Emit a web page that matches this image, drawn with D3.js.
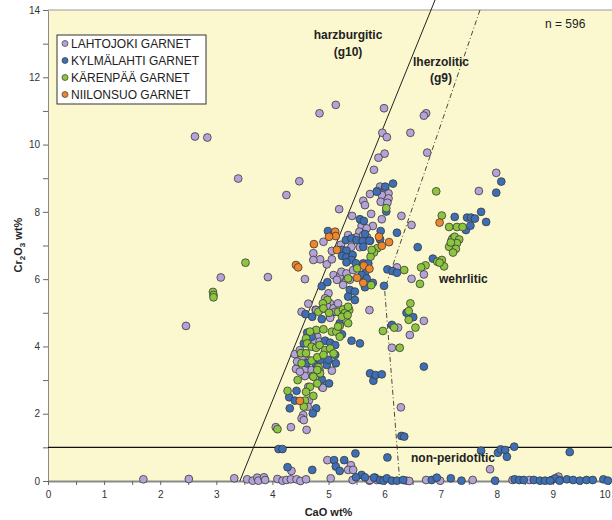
<!DOCTYPE html>
<html>
<head>
<meta charset="utf-8">
<script src="https://cdn.jsdelivr.net/npm/d3@7"></script>
<style>
  body { margin: 0; background: #fff; }
  svg { display: block; }
  text { font-family: "Liberation Sans", Arial, sans-serif; }
</style>
</head>
<body>
<svg id="chart" width="612" height="520"></svg>
<script>
// Garnet compositions, [CaO wt%, Cr2O3 wt%]
const seriesNames = ["LAHTOJOKI GARNET", "KYLMÄLAHTI GARNET", "KÄRENPÄÄ GARNET", "NIILONSUO GARNET"];
const seriesColors = ["#b4a3d6", "#3d6fb6", "#8cc63e", "#f0862c"];

const lahtojoki = [
  [2.62,10.24],[2.84,10.21],[3.39,8.99],[4.48,8.91],[4.25,8.50],[3.08,6.05],[3.92,6.06],[4.58,6.00],[2.46,4.61],
  [4.84,10.93],[5.13,11.18],[5.99,11.08],[6.74,10.93],[6.70,10.86],
  [5.96,10.35],[6.04,10.22],[6.46,10.35],[6.76,9.76],[6.00,9.73],[5.89,9.61],[5.81,9.25],
  [7.99,9.16],[7.68,8.62],[5.19,8.08],
  [5.92,8.75],[6.01,8.70],[6.07,8.55],[5.95,8.50],[5.87,8.62],[5.74,8.53],[6.07,8.40],[5.93,8.30],[6.05,8.27],
  [5.62,8.33],[5.65,8.20],[5.76,7.94],[5.95,7.78],[6.30,7.88],[6.48,7.61],[5.42,7.88],
  [5.79,7.58],[5.59,7.58],[5.68,7.51],[5.55,7.41],[5.62,7.31],[5.69,7.24],
  [5.35,7.31],[5.49,7.24],[4.91,7.11],[5.22,7.02],[5.41,6.96],[5.56,6.95],
  [5.06,6.84],[4.73,6.77],[4.85,6.59],[4.73,6.57],[4.97,6.44],[5.06,6.59],
  [5.20,6.02],[5.09,6.12],[5.26,6.15],[5.20,6.07],[5.26,5.83],[5.15,5.98],[5.23,6.22],[5.32,6.17],[5.44,6.27],[5.38,5.98],
  [6.22,6.35],[6.70,6.14],[6.48,6.01],
  [5.73,5.08],[6.70,4.76],[6.45,4.34],[6.24,4.56],[6.13,3.96],
  [4.77,5.09],[4.64,5.27],[4.52,5.03],[5.06,5.13],[5.03,4.99],[5.12,5.03],
  [5.00,5.58],[4.94,5.43],[5.03,5.28],[4.98,5.18],[5.09,5.13],[5.17,5.28],[5.12,5.03],[5.03,4.88],[4.78,5.08],[5.03,4.85],
  [4.73,4.37],[4.80,4.29],[4.76,4.14],[4.84,4.14],
  [4.40,3.77],[4.49,3.89],[4.52,3.65],
  [4.44,3.55],[4.66,3.58],[4.80,3.40],[4.58,3.30],[4.70,3.30],[4.84,3.30],[5.06,3.28],[4.42,3.33],
  [4.58,3.12],[4.72,3.12],[4.49,3.25],[4.64,2.80],[4.88,2.80],[4.90,2.77],
  [4.65,2.39],[4.63,2.21],[4.55,1.96],[4.52,1.86],[4.56,1.81],[4.06,1.60],[4.33,1.60],[4.61,1.52],
  [6.29,2.19],
  [4.98,0.62],[4.34,0.30],[5.40,0.47],[5.35,0.33],[5.44,0.33],[7.88,0.35],
  [1.70,0.05],[2.51,0.06],[3.32,0.08],[3.55,0.05],[3.65,0.01],[3.73,0.10],[3.75,0.01],[3.85,0.11],[3.87,0.03],
  [4.09,0.06],[4.18,0.01],[4.25,0.03],[4.33,0.05],[4.43,0.05],[4.50,0.00],[4.60,0.05],[5.04,0.08],[5.43,0.03],
  [5.73,0.01],[5.74,0.03],[5.86,0.03],[6.39,0.01],[6.44,0.00],[6.74,0.03],[6.99,0.01],[7.57,0.03],[8.28,0.03],
  [8.58,0.03],[9.10,0.13],[9.12,0.03]
];

const kylmalahti = [
  [8.08,8.90],[7.99,8.57],[7.25,7.85],[7.47,7.83],[7.54,7.83],[7.61,7.80],[7.72,8.00],[7.81,7.70],[7.45,7.46],[7.53,7.59],
  [7.22,7.22],[7.21,6.94],[6.59,6.95],[6.86,6.61],
  [6.39,5.00],[6.51,4.87],
  [6.15,8.84],[5.86,8.60],[6.01,8.75],[6.03,8.01],
  [6.22,7.38],[5.93,7.43],[5.74,7.14],[5.65,7.34],[5.92,7.18],
  [6.05,6.29],[6.14,6.24],[6.22,6.19],
  [5.65,6.17],[5.79,5.89],[5.65,5.76],[5.99,5.80],
  [6.13,4.64],[5.56,4.09],
  [5.56,7.78],[5.63,7.73],[4.99,7.43],[5.09,7.33],
  [5.31,7.16],[5.41,7.21],[5.50,7.16],[5.61,7.13],[5.73,7.14],[5.62,6.96],
  [5.24,6.87],[5.32,6.85],[5.24,6.69],[5.32,6.65],[5.43,6.72],
  [5.41,6.57],[5.32,6.50],[5.49,6.47],[5.62,6.47],[5.71,6.47],
  [5.59,6.12],[5.68,6.02],[4.88,5.79],[4.98,5.91],
  [4.59,4.96],[4.71,4.88],
  [5.38,5.68],[5.47,5.63],[5.35,5.48],[5.47,5.38],
  [4.88,4.81],[5.20,4.69],
  [4.62,4.41],[4.70,4.29],[5.24,4.36],[5.41,4.17],
  [4.56,4.09],[4.94,4.17],[5.03,4.11],[5.12,4.04],[5.12,3.75],
  [4.61,3.50],[4.78,3.47],[4.85,3.60],[4.97,3.45],[5.00,3.60],
  [5.13,3.50],[4.88,3.02],[5.01,2.90],[5.80,2.98],
  [4.43,2.68],[4.30,2.49],[4.40,2.39],[4.31,2.16],[4.78,2.16],[4.72,2.01],
  [6.70,3.40],[5.74,3.20],[5.84,3.15],[5.95,3.17],
  [6.30,1.34],[6.35,1.32],
  [4.11,0.95],[4.18,0.95],[5.48,0.82],[5.10,0.62],[5.28,0.62],[4.27,0.41],[4.71,0.33],[5.13,0.43],[5.20,0.30],
  [6.05,0.70],[7.72,0.90],[8.02,0.84],[8.07,0.94],[8.15,0.92],[8.18,0.72],[8.31,1.02],[9.30,0.86],
  [5.59,0.18],[5.49,0.11],[5.65,0.11],[5.83,0.10],[5.81,0.10],[5.92,0.03],[5.98,0.01],[6.04,0.08],[6.13,0.01],
  [6.22,0.01],[6.33,0.03],[6.84,0.03],[6.93,0.10],[7.18,0.08],[7.37,0.01],[7.97,0.01],[8.32,0.05],[8.40,0.03],
  [8.48,0.03],[8.66,0.03],[8.77,0.01],[8.86,0.01],[8.98,0.03],[9.04,0.08],[8.95,0.01],[9.12,0.01],[9.25,0.05],
  [9.36,0.03],[9.48,0.01],[9.60,0.03],[9.71,0.03],[9.90,0.05],[9.98,0.01]
];

const karenpaa = [
  [6.92,8.61],[7.02,7.89],[7.15,7.55],[7.29,7.55],[7.39,7.55],
  [7.20,7.18],[7.25,7.26],[7.33,7.18],[7.29,7.07],[7.15,6.96],[7.27,6.90],[7.22,6.79],[7.18,7.09],
  [6.94,6.52],[7.02,6.57],[7.06,6.38],[6.98,6.49],[6.73,6.41],[6.65,6.35],[6.35,6.27],[6.63,5.86],
  [6.46,5.28],[6.43,5.05],[6.43,4.79],[6.55,4.56],
  [6.03,8.11],[5.87,6.92],[5.81,6.79],[5.75,6.67],[5.77,6.87],[5.76,5.82],
  [6.17,4.56],[5.97,4.46],[6.27,3.96],
  [5.51,6.32],[5.35,6.02],
  [2.94,5.62],[2.95,5.53],[2.95,5.46],[3.52,6.49],
  [4.89,5.11],[4.82,5.03],[5.37,5.08],[5.26,5.03],[5.17,5.03],
  [4.98,5.38],[4.90,5.28],[4.91,5.13],[5.01,5.00],[5.26,5.10],[5.29,4.99],[5.35,5.18],[5.24,4.88],[5.34,4.93],
  [5.35,4.69],[5.20,4.61],
  [4.78,4.49],[4.91,4.51],[5.06,4.44],[5.14,4.44],[5.17,4.59],[5.20,4.29],[4.67,4.44],
  [4.60,4.24],[4.62,4.09],[4.70,3.99],[4.78,3.96],[4.84,4.04],
  [4.94,3.89],[5.03,3.94],[5.09,3.79],
  [4.51,3.80],[4.60,3.80],[4.52,3.50],[4.70,3.58],[4.80,3.68],[4.91,3.75],
  [4.82,3.38],[4.85,3.20],[4.73,3.10],[4.80,3.30],
  [4.45,3.00],[4.67,2.80],[4.80,2.90],
  [4.27,2.68],[4.60,2.65],[4.73,2.53],[4.58,2.39],[4.56,2.21],[4.09,1.54]
];

const niilonsuo = [
  [6.98,7.68],[5.90,7.26],[6.08,7.10],[5.95,6.99],[5.63,6.40],[5.73,6.31],[5.62,5.89],
  [5.12,7.41],[5.13,7.28],[5.01,7.26],[4.74,7.04],[5.15,6.87],[4.42,6.42],[4.46,6.35],[5.51,6.04],[4.49,2.38]
];

const seriesData = [lahtojoki, kylmalahti, karenpaa, niilonsuo];

// Field boundaries, [CaO, Cr2O3]
const g10Boundary = [[3.42, 0], [6.90, 14.3]];
const g9Boundary = [[7.70, 14.0], [6.00, 5.7], [6.27, 0]];
const peridotiteLimit = [[0, 1], [10.1, 1]];

const xTicks = d3.range(0, 10.001, 0.5);
const yTicks = d3.range(0, 14.001, 1);

const svg = d3.select("#chart");
const x = d3.scaleLinear().domain([0, 10]).range([48, 609]);
const y = d3.scaleLinear().domain([0, 14]).range([481, 10]);

// plot area
svg.append("rect")
  .attr("x", x(0)).attr("y", y(14))
  .attr("width", 612 - x(0)).attr("height", y(0) - y(14))
  .attr("fill", "#fbf8cf");
svg.append("line")
  .attr("x1", x(0)).attr("x2", 612).attr("y1", y(14)).attr("y2", y(14))
  .attr("stroke", "#9a9a9a").attr("stroke-width", 1);

// axes
const yAxis = svg.append("g")
  .attr("transform", `translate(${x(0)},0)`)
  .call(d3.axisLeft(y).tickValues(yTicks).tickSize(5).tickSizeOuter(0).tickPadding(3)
    .tickFormat(d => d % 2 === 0 ? d : ""));
const xAxis = svg.append("g")
  .attr("transform", `translate(0,${y(0)})`)
  .call(d3.axisBottom(x).tickValues(xTicks).tickSize(4).tickSizeOuter(0).tickPadding(6)
    .tickFormat(d => Number.isInteger(d) ? d : ""));
[yAxis, xAxis].forEach(g => {
  g.select(".domain").attr("stroke", "#8a8a8a");
  g.selectAll(".tick line").attr("stroke", "#666");
  g.selectAll(".tick text").attr("fill", "#333").style("font-size", "10px")
    .style("font-family", '"Liberation Sans", Arial, sans-serif');
});
xAxis.select(".domain").attr("stroke-width", 2);
// keep the last label inside the frame
xAxis.selectAll(".tick text").filter(d => d === 10).attr("text-anchor", "end").attr("dx", 1);

// boundary lines
const line = d3.line().x(d => x(d[0])).y(d => y(d[1]));
svg.append("path").datum(peridotiteLimit).attr("d", line)
  .attr("fill", "none").attr("stroke", "#111").attr("stroke-width", 1.2);
svg.append("path").datum(g10Boundary).attr("d", line)
  .attr("fill", "none").attr("stroke", "#222").attr("stroke-width", 1);
svg.append("path").datum(g9Boundary).attr("d", line)
  .attr("fill", "none").attr("stroke", "#333").attr("stroke-width", 0.9)
  .attr("stroke-dasharray", "5,2.5,1,2.5");

// garnet points
seriesData.forEach((data, i) => {
  svg.append("g").selectAll("circle").data(data).join("circle")
    .attr("cx", d => x(d[0])).attr("cy", d => y(d[1])).attr("r", 3.9)
    .attr("fill", seriesColors[i]).attr("stroke", "#3a3a3a").attr("stroke-width", 0.8);
});

// field labels
const fieldLabel = (txt, cx, cy, anchor, bold) => svg.append("text")
  .attr("x", cx).attr("y", cy).attr("text-anchor", anchor)
  .attr("fill", "#222").style("font-size", "12px")
  .style("font-weight", bold ? "bold" : "normal").text(txt);
fieldLabel("harzburgitic", 348, 39, "middle", true);
fieldLabel("(g10)", 348, 56, "middle", true);
fieldLabel("lherzolitic", 441, 66, "middle", true);
fieldLabel("(g9)", 441, 82, "middle", true);
fieldLabel("wehrlitic", 439, 283, "start", true);
fieldLabel("non-peridotitic", 411, 462, "start", true);
fieldLabel("n = 596", 545, 28, "start", false);

// axis titles
svg.append("text").attr("x", x(5)).attr("y", 516).attr("text-anchor", "middle")
  .attr("fill", "#222").style("font-size", "11px").style("font-weight", "bold").text("CaO wt%");
const yTitle = svg.append("text").attr("transform", "translate(22,245) rotate(-90)")
  .attr("text-anchor", "middle").attr("fill", "#222")
  .style("font-size", "11px").style("font-weight", "bold");
yTitle.append("tspan").text("Cr");
yTitle.append("tspan").attr("dy", 3).style("font-size", "8px").text("2");
yTitle.append("tspan").attr("dy", -3).text("O");
yTitle.append("tspan").attr("dy", 3).style("font-size", "8px").text("3");
yTitle.append("tspan").attr("dy", -3).text(" wt%");

// legend
const legend = svg.append("g");
legend.append("rect").attr("x", 57).attr("y", 35).attr("width", 149).attr("height", 69)
  .attr("fill", "#fff").attr("stroke", "#333").attr("stroke-width", 1);
seriesNames.forEach((name, i) => {
  const cy = 43.5 + i * 17;
  legend.append("circle").attr("cx", 65).attr("cy", cy).attr("r", 3)
    .attr("fill", seriesColors[i]).attr("stroke", "#3a3a3a").attr("stroke-width", 0.7);
  legend.append("text").attr("x", 71).attr("y", cy + 4.3)
    .attr("fill", "#222").style("font-size", "12px").text(name);
});
</script>
</body>
</html>
